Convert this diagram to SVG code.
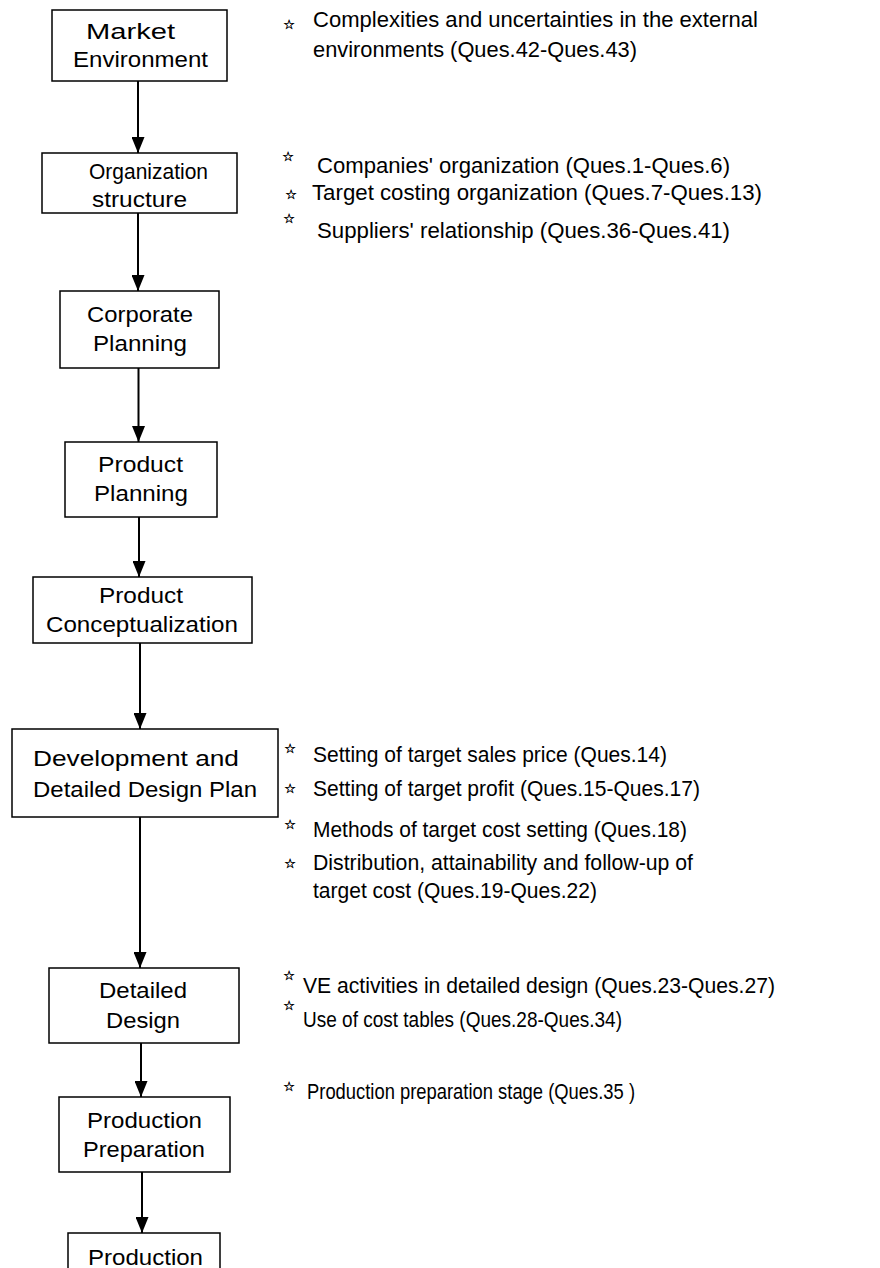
<svg xmlns="http://www.w3.org/2000/svg" width="880" height="1268" viewBox="0 0 880 1268">
<style>
  .box { fill: #fff; stroke: #000; stroke-width: 1.5; }
  .lbl { font-family: "Liberation Sans", Arial, sans-serif; font-size: 22px; fill: #000; }
  .note { font-family: "Liberation Sans", Arial, sans-serif; font-size: 21.5px; fill: #000; }
  .star { font-family: "DejaVu Sans", sans-serif; font-size: 13px; fill: #000; stroke: #000; stroke-width: 0.4; text-anchor: middle; }
  .conn { stroke: #000; stroke-width: 2; fill: none; marker-end: url(#arr); }
</style>
<defs>
  <marker id="arr" viewBox="0 0 16 13" refX="16" refY="6.5" markerWidth="16" markerHeight="13" markerUnits="userSpaceOnUse" orient="auto">
    <path d="M0,0 L16,6.5 L0,13 z" fill="#000"/>
  </marker>
</defs>
<rect width="880" height="1268" fill="#fff"/>

<g id="connectors">
  <line class="conn" x1="138" y1="81" x2="138" y2="153"/>
  <line class="conn" x1="138" y1="213" x2="138" y2="291"/>
  <line class="conn" x1="138.5" y1="368" x2="138.5" y2="442"/>
  <line class="conn" x1="139" y1="517" x2="139" y2="577"/>
  <line class="conn" x1="140" y1="643" x2="140" y2="729"/>
  <line class="conn" x1="140" y1="817" x2="140" y2="968"/>
  <line class="conn" x1="141" y1="1043" x2="141" y2="1097"/>
  <line class="conn" x1="142" y1="1172" x2="142" y2="1233"/>
</g>

<g id="market-environment">
  <rect class="box" x="52" y="10" width="175" height="71"/>
  <text class="lbl" x="86" y="39" textLength="89" lengthAdjust="spacingAndGlyphs">Market</text>
  <text class="lbl" x="73" y="66.5" textLength="135" lengthAdjust="spacingAndGlyphs">Environment</text>
</g>
<g id="organization-structure">
  <rect class="box" x="42" y="153" width="195" height="60"/>
  <text class="lbl" x="89" y="179" textLength="119" lengthAdjust="spacingAndGlyphs">Organization</text>
  <text class="lbl" x="92" y="206.5" textLength="95" lengthAdjust="spacingAndGlyphs">structure</text>
</g>
<g id="corporate-planning">
  <rect class="box" x="60" y="291" width="159" height="77"/>
  <text class="lbl" x="87" y="321.5" textLength="106" lengthAdjust="spacingAndGlyphs">Corporate</text>
  <text class="lbl" x="93" y="350.5" textLength="94" lengthAdjust="spacingAndGlyphs">Planning</text>
</g>
<g id="product-planning">
  <rect class="box" x="65" y="442" width="152" height="75"/>
  <text class="lbl" x="98" y="471.5" textLength="85" lengthAdjust="spacingAndGlyphs">Product</text>
  <text class="lbl" x="94" y="500.5" textLength="94" lengthAdjust="spacingAndGlyphs">Planning</text>
</g>
<g id="product-conceptualization">
  <rect class="box" x="33" y="577" width="219" height="66"/>
  <text class="lbl" x="99" y="603" textLength="84" lengthAdjust="spacingAndGlyphs">Product</text>
  <text class="lbl" x="46" y="631.5" textLength="192" lengthAdjust="spacingAndGlyphs">Conceptualization</text>
</g>
<g id="development-plan">
  <rect class="box" x="12" y="729" width="266" height="88"/>
  <text class="lbl" x="33" y="766" textLength="206" lengthAdjust="spacingAndGlyphs">Development and</text>
  <text class="lbl" x="33" y="796.5" textLength="224" lengthAdjust="spacingAndGlyphs">Detailed Design Plan</text>
</g>
<g id="detailed-design">
  <rect class="box" x="49" y="968" width="190" height="75"/>
  <text class="lbl" x="99" y="998" textLength="88" lengthAdjust="spacingAndGlyphs">Detailed</text>
  <text class="lbl" x="106" y="1028" textLength="74" lengthAdjust="spacingAndGlyphs">Design</text>
</g>
<g id="production-preparation">
  <rect class="box" x="59" y="1097" width="171" height="75"/>
  <text class="lbl" x="87" y="1128" textLength="115" lengthAdjust="spacingAndGlyphs">Production</text>
  <text class="lbl" x="83" y="1156.5" textLength="122" lengthAdjust="spacingAndGlyphs">Preparation</text>
</g>
<g id="production">
  <rect class="box" x="68" y="1233" width="152" height="60"/>
  <text class="lbl" x="88" y="1265" textLength="115" lengthAdjust="spacingAndGlyphs">Production</text>
</g>

<g id="notes">
  <text class="star" x="289" y="29">☆</text>
  <text class="note" x="313" y="27" textLength="445" lengthAdjust="spacingAndGlyphs">Complexities and uncertainties in the external</text>
  <text class="note" x="313" y="57" textLength="324" lengthAdjust="spacingAndGlyphs">environments (Ques.42-Ques.43)</text>

  <text class="star" x="288" y="161">☆</text>
  <text class="note" x="317" y="173" textLength="413" lengthAdjust="spacingAndGlyphs">Companies' organization (Ques.1-Ques.6)</text>
  <text class="star" x="291" y="199">☆</text>
  <text class="note" x="312" y="200" textLength="450" lengthAdjust="spacingAndGlyphs">Target costing organization (Ques.7-Ques.13)</text>
  <text class="star" x="289" y="223">☆</text>
  <text class="note" x="317" y="238" textLength="413" lengthAdjust="spacingAndGlyphs">Suppliers' relationship (Ques.36-Ques.41)</text>

  <text class="star" x="290" y="753">☆</text>
  <text class="note" x="313" y="762" textLength="354" lengthAdjust="spacingAndGlyphs">Setting of target sales price (Ques.14)</text>
  <text class="star" x="290" y="793">☆</text>
  <text class="note" x="313" y="796" textLength="387" lengthAdjust="spacingAndGlyphs">Setting of target profit (Ques.15-Ques.17)</text>
  <text class="star" x="290" y="829">☆</text>
  <text class="note" x="313" y="837" textLength="374" lengthAdjust="spacingAndGlyphs">Methods of target cost setting (Ques.18)</text>
  <text class="star" x="290" y="868">☆</text>
  <text class="note" x="313" y="870" textLength="380" lengthAdjust="spacingAndGlyphs">Distribution, attainability and follow-up of</text>
  <text class="note" x="313" y="898" textLength="284" lengthAdjust="spacingAndGlyphs">target cost (Ques.19-Ques.22)</text>

  <text class="star" x="289" y="980">☆</text>
  <text class="note" x="303" y="993" textLength="472" lengthAdjust="spacingAndGlyphs">VE activities in detailed design (Ques.23-Ques.27)</text>
  <text class="star" x="289" y="1010">☆</text>
  <text class="note" x="303" y="1026.5" textLength="319" lengthAdjust="spacingAndGlyphs">Use of cost tables (Ques.28-Ques.34)</text>
  <text class="star" x="289" y="1091">☆</text>
  <text class="note" x="307" y="1099" textLength="328" lengthAdjust="spacingAndGlyphs">Production preparation stage (Ques.35 )</text>
</g>
</svg>
